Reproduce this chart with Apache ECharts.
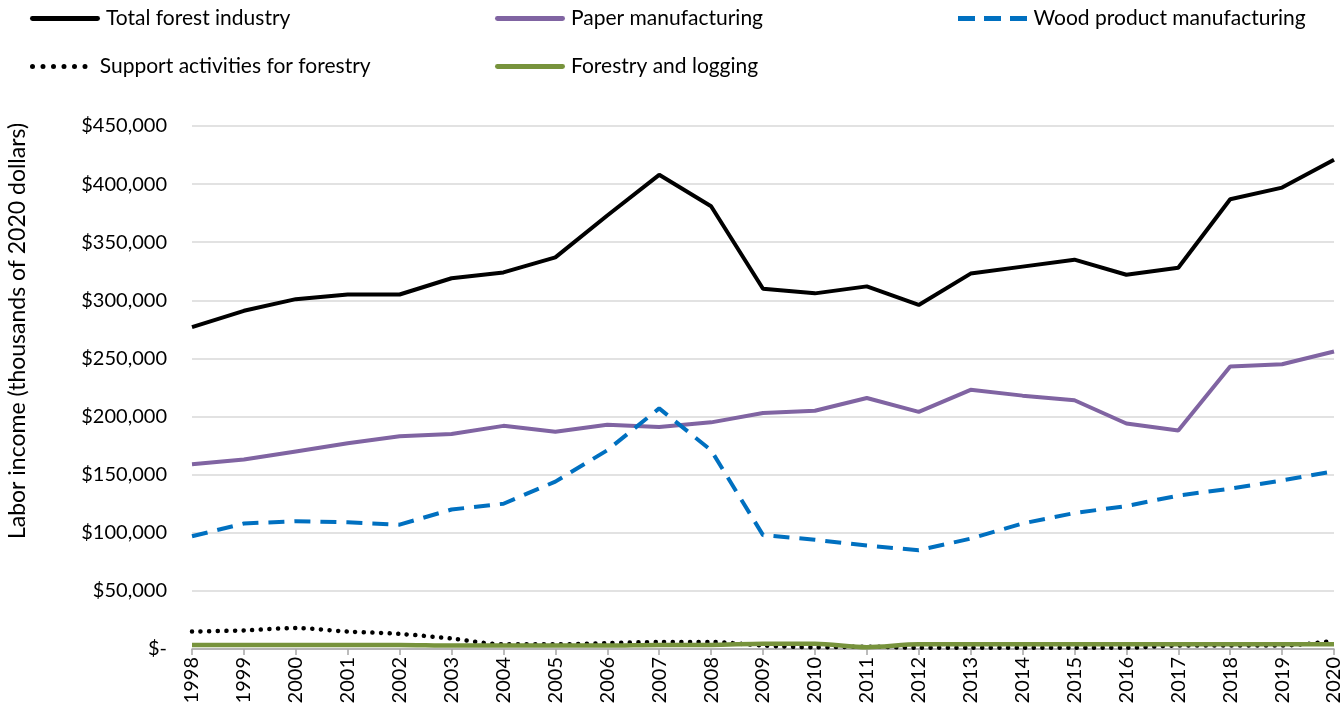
<!DOCTYPE html>
<html><head><meta charset="utf-8">
<script src="https://cdn.jsdelivr.net/npm/echarts@6/dist/echarts.min.js"></script>
<style>html,body{margin:0;padding:0;background:#fff}#c{width:1344px;height:713px}</style>
</head><body><div id="c"></div>
<script>
const years = ['1998','1999','2000','2001','2002','2003','2004','2005','2006','2007','2008','2009','2010','2011','2012','2013','2014','2015','2016','2017','2018','2019','2020'];
const totalForest = [277000,291000,301000,305000,305000,319000,324000,337000,373000,408000,381000,310000,306000,312000,296000,323000,329000,335000,322000,328000,387000,397000,421000];
const paperMfg = [159000,163000,170000,177000,183000,185000,192000,187000,193000,191000,195000,203000,205000,216000,204000,223000,218000,214000,194000,188000,243000,245000,256000];
const woodMfg = [97000,108000,110000,109000,107000,120000,125000,144000,171000,207000,171000,98000,94000,89000,85000,95000,108000,117000,123000,132000,138000,145000,153000];
const supportForestry = [15000,16000,18000,15000,13000,9000,4000,4000,5000,6000,6000,3000,1500,2000,1000,1000,1000,1000,1000,3000,3000,3000,7000];
const forestryLogging = [3500,3500,3500,3500,3500,3000,3000,3000,3000,3500,3500,4500,4500,1500,4000,4000,4000,4000,4000,4000,4000,4000,4000];
const yTicks = {min:0, max:450000, interval:50000};

const FONT = 'Lato';
const chart = echarts.init(document.getElementById('c'));
const solidIcon = 'path://M2,0h66a2,2 0 0 1 0,5h-66a2,2 0 0 1 0,-5z';
const dashIcon = 'path://M0,0h17v5h-17z M26,0h17v5h-17z M52,0h17v5h-17z';
let dots = '';
for (let i = 0; i < 6; i++) { const cx = 2.5 + i*10.5; dots += 'M'+(cx-2.5)+',2.5a2.5,2.5 0 1,0 5,0a2.5,2.5 0 1,0 -5,0z '; }
const dotIcon = 'path://' + dots;
function leg(name, icon, left, top){
  return {data:[name], icon:icon, left:left, top:top, itemWidth:70, itemHeight:5, itemGap:0,
    textStyle:{fontFamily:FONT, fontSize:21, color:'#000', padding:[0,0,0,1]}, padding:0};
}
chart.setOption({
  animation:false,
  legend:[
    leg('Total forest industry',solidIcon,30,8),
    leg('Paper manufacturing',solidIcon,495,8),
    leg('Wood product manufacturing',dashIcon,958,8),
    leg('Support activities for forestry',dotIcon,30,56),
    leg('Forestry and logging',solidIcon,495,56)
  ],
  graphic:[{type:'text',x:18,y:331,rotation:Math.PI/2,
    style:{text:'Labor income (thousands of 2020 dollars)',fontFamily:FONT,fontSize:23,fill:'#000',textAlign:'center',textVerticalAlign:'middle'}}],
  grid:{left:192,right:10,top:126,bottom:64,containLabel:false},
  xAxis:{type:'category',data:years,boundaryGap:false,
    axisLine:{lineStyle:{color:'#a6a6a6',width:1.5}},
    axisTick:{show:true,alignWithLabel:true,length:6,lineStyle:{color:'#a6a6a6',width:1.5}},
    axisLabel:{rotate:90,fontFamily:FONT,fontSize:20,color:'#000',margin:8,interval:0},
    splitLine:{show:false}},
  yAxis:{type:'value',min:yTicks.min,max:yTicks.max,interval:yTicks.interval,
    axisLine:{show:false},axisTick:{show:false},
    axisLabel:{fontFamily:FONT,fontSize:20,color:'#000',margin:25,
      formatter:v=> v===0 ? '$-' : '$'+v.toLocaleString('en-US')},
    splitLine:{lineStyle:{color:'#d9d9d9',width:1.5}}},
  series:[
    {name:'Total forest industry',type:'line',data:totalForest,symbol:'none',lineStyle:{color:'#000',width:4},itemStyle:{color:'#000'}},
    {name:'Paper manufacturing',type:'line',data:paperMfg,symbol:'none',lineStyle:{color:'#8064A2',width:4},itemStyle:{color:'#8064A2'}},
    {name:'Wood product manufacturing',type:'line',data:woodMfg,symbol:'none',lineStyle:{color:'#0070C0',width:4,type:[16,10]},itemStyle:{color:'#0070C0'}},
    {name:'Support activities for forestry',type:'line',data:supportForestry,symbol:'none',smooth:0.3,lineStyle:{color:'#000',width:4.5,type:[0.1,8.5],cap:'round'},itemStyle:{color:'#000'}},
    {name:'Forestry and logging',type:'line',data:forestryLogging,symbol:'none',smooth:0.3,lineStyle:{color:'#77933C',width:4.5},itemStyle:{color:'#77933C'}}
  ]
});
</script></body></html>
